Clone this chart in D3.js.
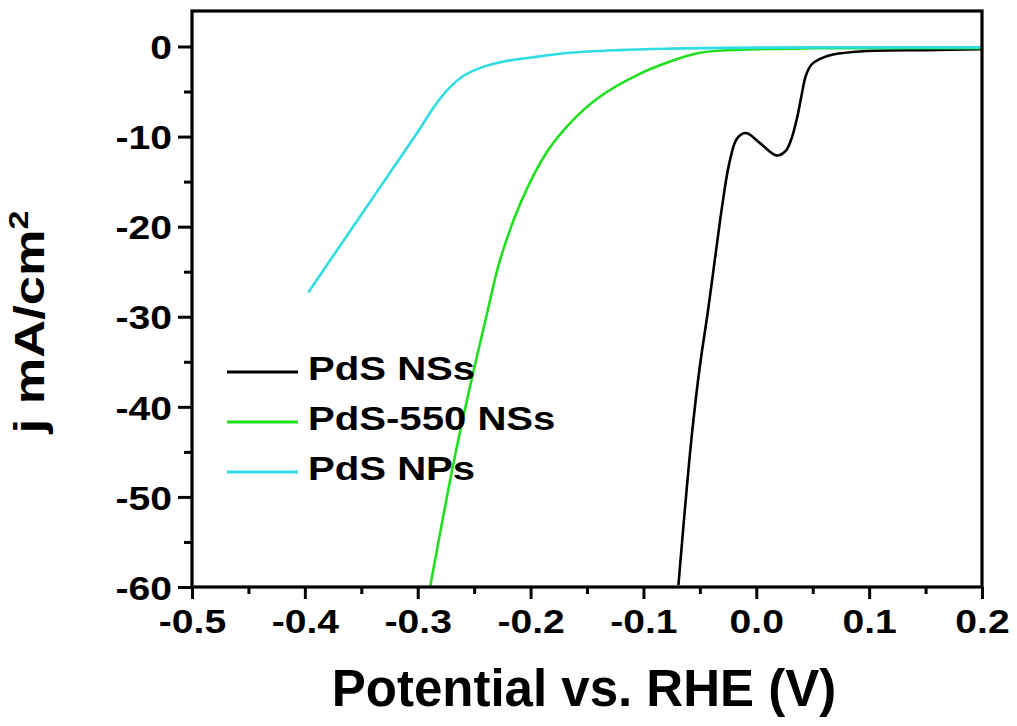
<!DOCTYPE html>
<html>
<head>
<meta charset="utf-8">
<script src="https://cdn.jsdelivr.net/npm/d3@7"></script>
<style>
  body { margin: 0; background: #fff; }
  svg text { font-family: "Liberation Sans", Arial, sans-serif; font-weight: bold; fill: #000; }
</style>
</head>
<body>
<div id="chart"></div>
<script>
// series (potential V, current density mA/cm2)
const nss_x = [-0.069, -0.063, -0.057, -0.050, -0.043, -0.036, -0.030, -0.024, -0.017, -0.009, 0.003, 0.018, 0.026, 0.031, 0.036, 0.040, 0.044, 0.049, 0.056, 0.068, 0.098, 0.151, 0.2]
const nss_y = [-59.8, -51, -43, -35.5, -29.5, -23, -17.5, -13, -10.2, -9.6, -10.7, -12.1, -11.6, -10.3, -8, -5.5, -3.2, -2.0, -1.4, -0.9, -0.5, -0.4, -0.3]

const ns550_x = [-0.289, -0.269, -0.255, -0.240, -0.227, -0.209, -0.186, -0.165, -0.139, -0.106, -0.077, -0.050, -0.012, 0.05, 0.2]
const ns550_y = [-60, -46.7, -38.5, -30.4, -23.7, -17.4, -11.8, -8.5, -5.6, -3.2, -1.7, -0.7, -0.35, -0.2, -0.2]

const nps_x = [-0.397, -0.360, -0.330, -0.300, -0.285, -0.272, -0.260, -0.245, -0.225, -0.198, -0.165, -0.121, -0.08, -0.03, 0.05, 0.2]
const nps_y = [-27.3, -20.5, -15.0, -9.5, -6.6, -4.6, -3.3, -2.4, -1.7, -1.2, -0.7, -0.4, -0.25, -0.15, -0.1, -0.1]

const series_names = ["PdS NSs", "PdS-550 NSs", "PdS NPs"]
const series_colors = ["#000000", "#1ee01e", "#30dde2"]

const x_ticks = [-0.5, -0.4, -0.3, -0.2, -0.1, 0.0, 0.1, 0.2]
const x_minor = [-0.45, -0.35, -0.25, -0.15, -0.05, 0.05, 0.15]
const y_ticks = [0, -10, -20, -30, -40, -50, -60]
const y_minor = [-5, -15, -25, -35, -45, -55]

const width = 1017, height = 726
const plot_l = 192, plot_r = 982, plot_t = 11, plot_b = 587
const stretch = 1.15   // the picture's labels are a bit wider than plain Arial bold

const svg = d3.select("#chart").append("svg")
    .attr("width", width)
    .attr("height", height)

const x = d3.scaleLinear().domain([-0.5, 0.2]).range([plot_l, plot_r])
const y = d3.scaleLinear().domain([-60, 3.94]).range([plot_b, plot_t])

// curves
const series = [
    d3.zip(nss_x, nss_y),
    d3.zip(ns550_x, ns550_y),
    d3.zip(nps_x, nps_y),
]

const line = d3.line()
    .x(d => x(d[0]))
    .y(d => y(d[1]))
    .curve(d3.curveCatmullRom.alpha(0.5))

svg.append("g")
    .selectAll("path")
    .data(series)
    .join("path")
    .attr("d", line)
    .attr("fill", "none")
    .attr("stroke", (d, i) => series_colors[i])
    .attr("stroke-width", 2.6)

// axes
const fmt_x = d => d3.format(".1f")(d).replace("−", "-")
const fmt_y = d => d3.format("d")(d).replace("−", "-")

const x_axis = svg.append("g")
    .attr("transform", "translate(0," + plot_b + ")")
    .call(d3.axisBottom(x).tickValues(x_ticks).tickFormat(fmt_x).tickSize(12).tickSizeOuter(0))
x_axis.append("g")
    .call(d3.axisBottom(x).tickValues(x_minor).tickFormat("").tickSize(7).tickSizeOuter(0))

const y_axis = svg.append("g")
    .attr("transform", "translate(" + plot_l + ",0)")
    .call(d3.axisLeft(y).tickValues(y_ticks).tickFormat(fmt_y).tickSize(14).tickSizeOuter(0))
y_axis.append("g")
    .call(d3.axisLeft(y).tickValues(y_minor).tickFormat("").tickSize(8).tickSizeOuter(0))

svg.selectAll(".domain").remove()
svg.selectAll(".tick line").attr("stroke", "#000").attr("stroke-width", 3)
svg.selectAll(".tick text").attr("font-size", 34).attr("fill", "#000")
x_axis.selectAll(".tick text")
    .attr("y", 46).attr("dy", 0)
    .attr("transform", "scale(" + stretch + ",1)")
y_axis.selectAll(".tick text")
    .attr("x", -20 / stretch).attr("dy", "0.36em")
    .attr("transform", "scale(" + stretch + ",1)")

// frame
svg.append("rect")
    .attr("x", plot_l)
    .attr("y", plot_t)
    .attr("width", plot_r - plot_l)
    .attr("height", plot_b - plot_t)
    .attr("fill", "none")
    .attr("stroke", "#000")
    .attr("stroke-width", 3.2)

// axis titles
svg.append("text")
    .attr("x", (plot_l + plot_r) / 2 - 3)
    .attr("y", 706)
    .attr("text-anchor", "middle")
    .attr("font-size", 51)
    .text("Potential vs. RHE (V)")

const y_title = svg.append("text")
    .attr("transform", "translate(44,322) rotate(-90) scale(1.22,1)")
    .attr("text-anchor", "middle")
    .attr("font-size", 43)
y_title.append("tspan").text("j mA/cm")
y_title.append("tspan").attr("font-size", 28).attr("dy", -16).text("2")

// legend
const legend = svg.append("g")
    .selectAll("g")
    .data(series_names)
    .join("g")
    .attr("transform", (d, i) => "translate(227," + (372 + i * 50) + ")")

legend.append("line")
    .attr("x1", 0).attr("x2", 71)
    .attr("stroke", (d, i) => series_colors[i])
    .attr("stroke-width", 3)

legend.append("text")
    .attr("transform", "translate(81,8) scale(1.18,1)")
    .attr("font-size", 34)
    .text(d => d)
</script>
</body>
</html>
